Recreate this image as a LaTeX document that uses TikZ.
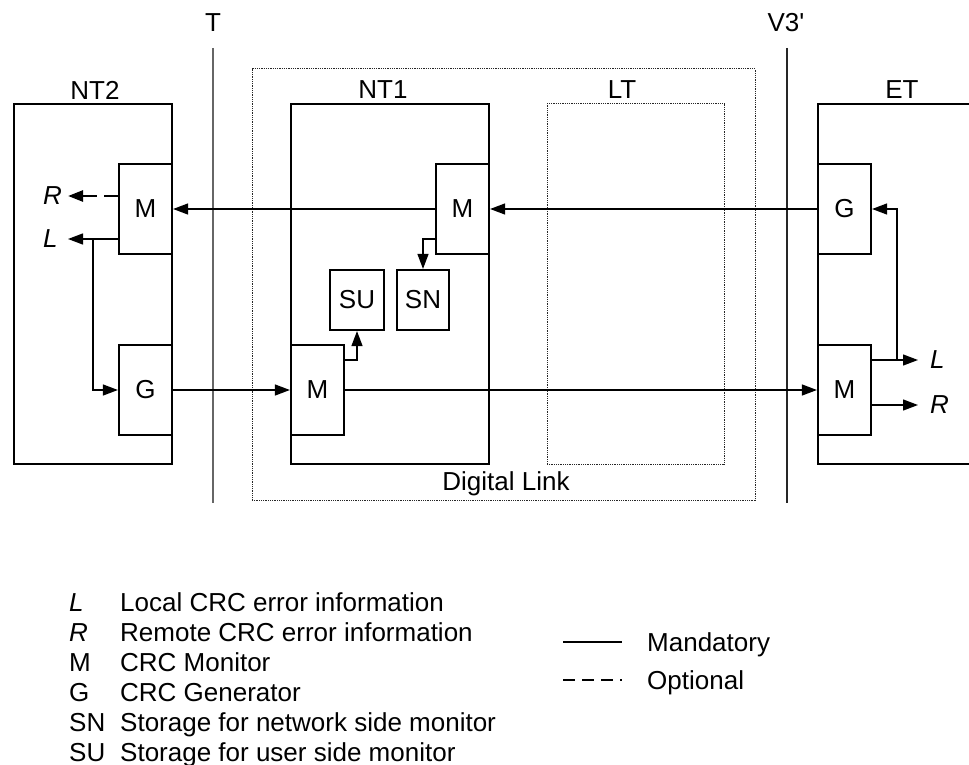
\documentclass[tikz,border=0pt]{standalone}
\usepackage{fontspec}
\setmainfont{Liberation Sans}
\usetikzlibrary{calc,positioning}
\usetikzlibrary{arrows.meta}
\tikzset{>={Triangle[width=11pt,length=15pt]}}

\begin{document}
\begin{tikzpicture}[x=1pt,y=-1pt,font=\fontsize{26}{30}\selectfont]
        \tikzstyle{frame} = [draw=black, line width=2.2pt, rectangle, inner sep=0pt, minimum height=360pt]
        \tikzstyle{dotframe} = [draw=black!85, line width=1pt, dash pattern=on 1pt off 0.8pt, rectangle, inner sep=0pt]
        \tikzstyle{unit} = [draw=black, line width=2.2pt, rectangle, inner sep=0pt, minimum width=53pt, minimum height=90pt]
        \tikzstyle{store} = [draw=black, line width=2.2pt, rectangle, inner sep=0pt, minimum height=60pt]
        \tikzstyle{lbl} = [inner sep=0pt]
        \tikzstyle{io} = [inner sep=0pt, text width=19pt, align=left]
        \tikzstyle{link} = [line width=1.3pt]
        \tikzstyle{opt} = [line width=2.6pt, dash pattern=on 14pt off 7pt]
        \tikzstyle{iface} = [draw=black!60, line width=1.3pt]

        \useasboundingbox (0,0) rectangle (969,765);

        % reference points T and V3'
        \node[lbl] (tlbl) at (213,23) {T};
        \node[lbl] (vlbl) at (786,23) {V3\textquotesingle};
        \coordinate (ttop) at (213,48);
        \coordinate (tbot) at (213,503);
        \coordinate (vtop) at (787,48);
        \coordinate (vbot) at (787,503);
        \draw[iface] (ttop) -- (tbot);
        \draw[iface, draw=black!85] (vtop) -- (vbot);

        % equipment
        \node[dotframe, minimum width=503pt, minimum height=431pt] (dl) at (503.5,284.5) {};
        \node[frame, minimum width=158pt] (nt2) at (93,284) {};
        \node[frame, minimum width=198pt] (nt1) at (390,284) {};
        \node[dotframe, minimum width=177pt, minimum height=360pt] (lt) at (635.5,284) {};
        \node[frame, minimum width=172pt] (et) at (904,284) {};
        \node[lbl] (nt2lbl) at (95,90) {NT2};
        \node[lbl] (nt1lbl) at (383,90) {NT1};
        \node[lbl] (ltlbl) at (622,90) {LT};
        \node[lbl] (etlbl) at (902,90) {ET};
        \node[lbl, anchor=base] (dllbl) at (506,490) {Digital Link};

        % monitors, generators, storage
        \node[unit] (nt2m) at (145.5,209) {M};
        \node[unit] (nt2g) at (145.5,390) {G};
        \node[unit] (nt1mn) at (462.5,209) {M};
        \node[unit] (nt1mu) at (317.5,390) {M};
        \node[store, minimum width=54pt] (su) at (357,300) {SU};
        \node[store, minimum width=52pt] (sn) at (423,300) {SN};
        \node[unit] (etg) at (844.5,209) {G};
        \node[unit] (etm) at (844.5,390) {M};

        \node[io, anchor=west, outer sep=6pt] (nt2r) at (37,196) {\textit{R}};
        \node[io, anchor=west, outer sep=6pt] (nt2l) at (37,239) {\textit{L}};
        \node[io, anchor=west, outer sep=12pt] (etl) at (918,360) {\textit{L}};
        \node[io, anchor=west, outer sep=12pt] (etr) at (918,405) {\textit{R}};
        \coordinate (tap2) at (93,239);
        \coordinate (tape) at (897,360);

        \draw[link,->] (etg) -- (nt1mn);
        \draw[link,->] (nt1mn) -- (nt2m);
        \draw[link,->] (nt2g) -- (nt1mu);
        \draw[link,->] (nt1mu) -- (etm);
        \draw[opt,->] (nt2m.west |- nt2r) -- (nt2r);
        \draw[link,->] (nt2m.west |- nt2l) -- (nt2l);
        \draw[link,->] (tap2) |- (nt2g.west);
        \draw[link,->] ([yshift=-30pt]nt1mn.west) -| (sn.north);
        \draw[link,->] ([yshift=30pt]nt1mu.east) -| (su.south);
        \draw[link,->] (etm.east |- etl) -- (etl);
        \draw[link,->] (etm.east |- etr) -- (etr);
        \draw[link,->] (tape) |- (etg.east);

        % key
        \foreach \sym/\txt [count=\i] in {{\textit{L}}/{Local CRC error information},
            {\textit{R}}/{Remote CRC error information}, M/{CRC Monitor}, G/{CRC Generator},
            SN/{Storage for network side monitor}, SU/{Storage for user side monitor}}
        {
          \node[lbl, anchor=base west] (key\i) at (69,581+30*\i) {\sym};
          \node[lbl, anchor=base west] (keytxt\i) at (120,581+30*\i) {\txt};
        }
        \coordinate (mand1) at (563,642);
        \coordinate (mand2) at (622,642);
        \coordinate (opt1) at (563,680);
        \coordinate (opt2) at (622,680);
        \draw[link] (mand1) -- (mand2);
        \draw[opt, dash pattern=on 12pt off 7pt] (opt1) -- (opt2);
        \node[lbl, anchor=base west] (mandlbl) at (647,651) {Mandatory};
        \node[lbl, anchor=base west] (optlbl) at (647,689) {Optional};
      \end{tikzpicture}
\end{document}
